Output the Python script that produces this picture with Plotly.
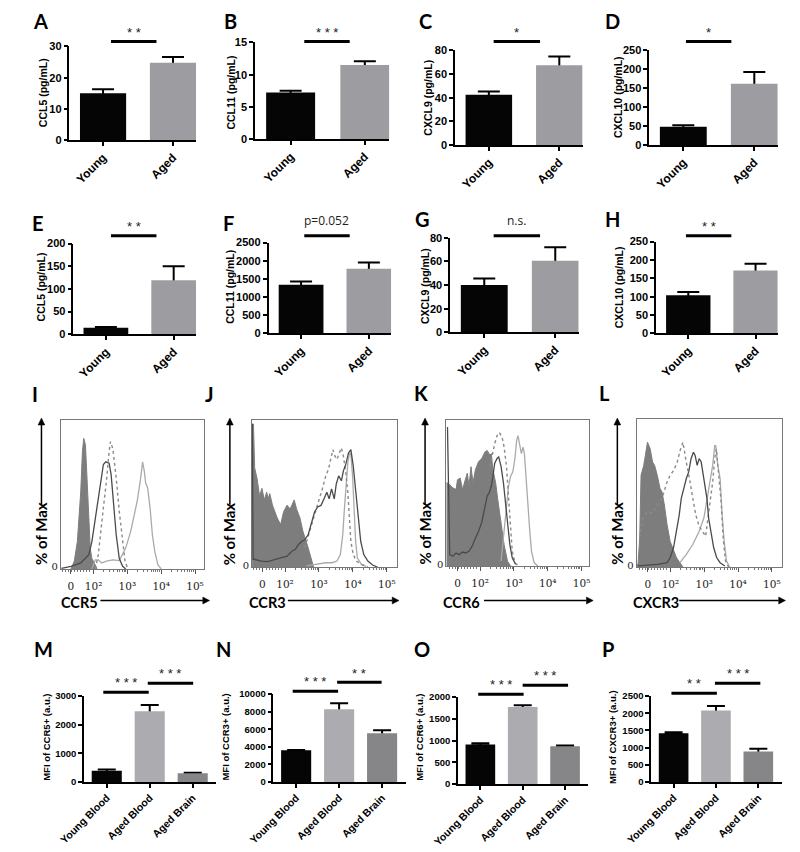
import plotly.graph_objects as go

W, H = 800, 852
def fx(p): return p / W
def fy(p): return 1 - p / H

# ---------------- data ----------------
young_aged = ["Young", "Aged"]
blood_brain = ["Young Blood", "Aged Blood", "Aged Brain"]

# serum (A-D)
A_vals = [15.0, 24.8]; A_err = [1.3, 1.8]
B_vals = [7.25, 11.5]; B_err = [0.25, 0.6]
C_vals = [42.5, 67.5]; C_err = [2.8, 7.3]
D_vals = [48.0, 162.0]; D_err = [4.0, 31.0]
# brain (E-H)
E_vals = [14.5, 119.0]; E_err = [1.5, 31.0]
F_vals = [1340.0, 1780.0]; F_err = [90.0, 170.0]
G_vals = [40.0, 60.5]; G_err = [5.5, 11.5]
H_vals = [104.0, 171.0]; H_err = [9.0, 19.0]
# MFI (M-P)
M_vals = [390, 2470, 300]; M_err = [45, 220, 20]
N_vals = [3600, 8280, 5550]; N_err = [50, 680, 350]
O_vals = [910, 1770, 870]; O_err = [25, 45, 15]
P_vals = [1420, 2080, 890]; P_err = [30, 130, 75]

# flow histograms: x in logicle display units (2 = 10^2 ...), y in % of max
I_fill_x = [1.33, 1.43, 1.52, 1.62, 1.67, 1.71, 1.76, 1.81, 1.86, 1.90, 1.95, 2.05, 2.10]
I_fill_y = [0, 6, 21, 59, 90, 100, 95, 72, 39, 16, 8, 3, 0]
I_dark_x = [1.05, 1.33, 1.62, 1.86, 1.95, 2.05, 2.11, 2.19, 2.29, 2.36, 2.46, 2.52, 2.59, 2.67, 2.76, 2.86, 2.95]
I_dark_y = [0.5, 2, 4.6, 11, 21, 39, 47, 64, 80, 82, 81, 72, 52, 26, 8, 2, 0]
I_dot_x = [2.05, 2.14, 2.29, 2.38, 2.46, 2.50, 2.57, 2.67, 2.76, 2.86, 2.93, 3.0]
I_dot_y = [0, 11, 47, 67, 90, 97.5, 92, 69.5, 44, 21, 6, 1]
I_light_x = [1.95, 2.05, 2.14, 2.24, 2.38, 2.57, 2.76, 2.86, 2.95, 3.10, 3.19, 3.29, 3.38, 3.45, 3.50, 3.54, 3.60, 3.67, 3.74, 3.81, 3.90, 4.0]
I_light_y = [0, 7, 7, 4.6, 6, 7, 6.4, 11, 16, 29, 39, 52, 67, 82, 75, 66, 62, 47, 26, 13.5, 3.3, 0]

J_fill_x = [1.03, 1.07, 1.105, 1.18, 1.25, 1.32, 1.39, 1.46, 1.505, 1.55, 1.63, 1.77, 1.87, 1.96, 2.06, 2.15, 2.27, 2.34, 2.44, 2.53, 2.68, 2.84]
J_fill_y = [111, 111, 77, 68, 55, 61, 52, 58, 53, 57, 48, 38, 33, 43, 48, 45, 52, 45, 38, 27.5, 15, 0]
J_dark_x = [1.035, 1.06, 1.09, 1.30, 1.49, 1.68, 1.87, 2.06, 2.20, 2.30, 2.39, 2.49, 2.58, 2.68, 2.77, 2.87, 2.96, 3.06, 3.15, 3.23, 3.30, 3.37, 3.45, 3.51, 3.58, 3.66, 3.72, 3.79, 3.87, 3.94, 4.01, 4.08, 4.15, 4.23, 4.32, 4.44, 4.58, 4.72]
J_dark_y = [111, 6, 6, 4.6, 4.1, 5.9, 7.1, 8.4, 12.2, 13.5, 17.3, 19.8, 21.1, 24.9, 32.6, 42.7, 46.6, 47.8, 52.9, 58, 52.9, 60.6, 52.9, 64.4, 70.7, 66.9, 74.6, 79.6, 88.5, 91.1, 78.4, 60.6, 37.7, 19.8, 9.7, 4.6, 1.5, 0]
J_dot_x = [2.58, 2.72, 2.82, 2.91, 3.01, 3.10, 3.20, 3.28, 3.34, 3.41, 3.47, 3.53, 3.60, 3.66, 3.72, 3.79, 3.85, 3.90, 3.94, 4.01, 4.10, 4.25, 4.44]
J_dot_y = [14.8, 27.5, 37.7, 45.3, 52.9, 60.6, 70.7, 75.8, 83.5, 91.1, 86, 83.5, 88.5, 92.4, 86, 73.3, 58, 37.7, 19.8, 9.7, 4.6, 2, 0]
J_light_x = [2.63, 2.91, 3.20, 3.39, 3.53, 3.63, 3.70, 3.75, 3.80, 3.85, 3.90, 3.94, 3.99, 4.04, 4.08, 4.13, 4.25, 4.39]
J_light_y = [0.8, 2, 3.3, 3.3, 4.6, 9.7, 24.9, 45.3, 63.1, 80.9, 88.5, 87.3, 70.7, 45.3, 19.8, 7.1, 2, 0.5]

K_fill_x = [1.0, 1.03, 1.10, 1.19, 1.29, 1.33, 1.41, 1.48, 1.52, 1.57, 1.62, 1.67, 1.73, 1.79, 1.86, 1.95, 2.05, 2.14, 2.21, 2.29, 2.33, 2.38, 2.46, 2.52, 2.62, 2.71, 2.81, 2.90]
K_fill_y = [64.9, 64.9, 63.6, 61.1, 59.8, 67.4, 68.7, 59.8, 63.6, 67.4, 72.5, 62.3, 77.6, 64.9, 75.1, 81.4, 84, 89, 90.3, 86.5, 87.8, 75.1, 64.9, 52.2, 31.8, 16.5, 3.8, 0]
K_dark_x = [1.02, 1.035, 1.10, 1.19, 1.29, 1.38, 1.48, 1.57, 1.67, 1.76, 1.86, 1.95, 2.05, 2.14, 2.21, 2.27, 2.33, 2.38, 2.43, 2.50, 2.55, 2.62, 2.69, 2.76, 2.82, 2.88, 2.95, 3.05]
K_dark_y = [108, 108, 8.9, 7.6, 10.2, 8.9, 10.9, 10.2, 11.5, 15.3, 21.6, 26.7, 34.4, 44.5, 54.7, 57.3, 62.3, 70, 80.2, 84, 85.2, 77.6, 64.9, 47.1, 31.8, 16.5, 6.4, 1.3]
K_dot_x = [2.29, 2.36, 2.43, 2.50, 2.57, 2.65, 2.71, 2.78, 2.84, 2.90, 2.95, 3.03, 3.14]
K_dot_y = [77.6, 87.8, 95.4, 101.8, 104.3, 100.5, 92.9, 77.6, 52.2, 26.7, 11.5, 2.5, 0]
K_light_x = [2.62, 2.69, 2.76, 2.84, 2.90, 2.97, 3.03, 3.08, 3.12, 3.17, 3.22, 3.27, 3.31, 3.35, 3.41, 3.47, 3.52, 3.60, 3.71]
K_light_y = [3.8, 21.6, 44.5, 62.3, 70, 73.8, 84, 98, 101.8, 95.4, 87.8, 92.9, 87.8, 72.5, 47.1, 26.7, 11.5, 2.5, 0]

L_fill_x = [1.0, 1.04, 1.09, 1.13, 1.21, 1.28, 1.32, 1.40, 1.47, 1.53, 1.61, 1.69, 1.75, 1.82, 1.90, 1.99, 2.09, 2.18, 2.28, 2.37]
L_fill_y = [2, 2, 22.4, 70.7, 78.4, 91.1, 96.2, 91.1, 80.9, 78.4, 70.7, 60.6, 58, 47.8, 32.6, 19.8, 12.2, 7.1, 3.3, 0]
L_dark_x = [1.04, 1.61, 1.90, 1.99, 2.09, 2.18, 2.26, 2.32, 2.39, 2.47, 2.54, 2.61, 2.68, 2.73, 2.79, 2.85, 2.91, 2.96, 3.02, 3.08, 3.13, 3.21, 3.28, 3.37, 3.47, 3.61]
L_dark_y = [0.8, 2, 3.3, 7.1, 14.8, 27.5, 40.2, 52.9, 60.6, 68.2, 73.3, 83.5, 88.5, 86, 78.4, 83.5, 80.9, 73.3, 63.1, 52.9, 37.7, 24.9, 14.8, 7.1, 3.3, 0.8]
L_dot_x = [1.09, 1.18, 1.32, 1.47, 1.61, 1.75, 1.90, 1.99, 2.10, 2.20, 2.30, 2.37, 2.45, 2.51, 2.58, 2.66, 2.75, 2.85, 2.94, 3.04, 3.11, 3.18, 3.25, 3.31, 3.36, 3.42, 3.50, 3.56, 3.63, 3.72]
L_dot_y = [22.4, 37.7, 42.7, 41.5, 47.8, 52.9, 65.6, 70.7, 74.6, 80.9, 91.1, 96.2, 83.5, 75.8, 65.6, 52.9, 40.2, 31.3, 27.5, 23.7, 37.7, 50.4, 65.6, 83.5, 91.1, 73.3, 50.4, 22.4, 4.6, 0]
L_light_x = [2.28, 2.47, 2.66, 2.85, 2.99, 3.09, 3.18, 3.25, 3.31, 3.34, 3.40, 3.47, 3.53, 3.59, 3.66, 3.75]
L_light_y = [3.3, 9.7, 17.3, 27.5, 37.7, 52.9, 65.6, 78.4, 93.6, 93.6, 78.4, 68.2, 40.2, 19.8, 4.6, 0]

flow_tickvals = [1.33, 2, 3, 4, 5]
flow_ticktext = ["0", "10²", "10³", "10⁴", "10⁵"]

# ---------------- figure ----------------
fig = go.Figure()
layout = {}
annotations = []
shapes = []

SANS = "Liberation Sans"
LETTER = "Lato"

def axnames(n):
    return ("xaxis" if n == 1 else f"xaxis{n}", "yaxis" if n == 1 else f"yaxis{n}",
            "x" if n == 1 else f"x{n}", "y" if n == 1 else f"y{n}")

def letter(t, x, y):
    annotations.append(dict(text="<b>" + t + "</b>", x=fx(x), y=fy(y), xref="paper", yref="paper", showarrow=False,
                            xanchor="center", yanchor="middle",
                            font=dict(family=LETTER, size=20, color="black")))

def sig(x0, x1, yl, text, yt, size=13, fam=SANS):
    shapes.append(dict(type="line", xref="paper", yref="paper", x0=fx(x0), x1=fx(x1), y0=fy(yl), y1=fy(yl),
                       line=dict(color="black", width=3)))
    annotations.append(dict(text=text, x=fx((x0 + x1) / 2), y=fy(yt), xref="paper", yref="paper",
                            showarrow=False, xanchor="center", yanchor="middle",
                            font=dict(family=fam, size=size, color="#222")))

def arrow(x0, y0, x1, y1, hl=7, hw=3.5):
    dx, dy = x1 - x0, y1 - y0
    d = (dx * dx + dy * dy) ** 0.5
    ux, uy = dx / d, dy / d
    bx, by = x1 - ux * hl, y1 - uy * hl
    shapes.append(dict(type="line", xref="paper", yref="paper", x0=fx(x0), y0=fy(y0), x1=fx(bx), y1=fy(by),
                       line=dict(color="black", width=1.5)))
    p1 = (bx - uy * hw, by + ux * hw)
    p2 = (bx + uy * hw, by - ux * hw)
    path = "M {} {} L {} {} L {} {} Z".format(fx(x1), fy(y1), fx(p1[0]), fy(p1[1]), fx(p2[0]), fy(p2[1]))
    shapes.append(dict(type="path", xref="paper", yref="paper", path=path, fillcolor="black",
                       line=dict(color="black", width=0.5)))

def bar_panel(n, cats, vals, errs, colors, ylabel, lab_xy, ymax, dtick, xl, xr, yt, yb,
              xrange, barw, capw, tfs, cfs, lfs):
    xk, yk, xr_, yr_ = axnames(n)
    pos = list(range(len(cats)))
    fig.add_trace(go.Bar(x=pos, y=vals, width=barw, marker=dict(color="rgba(0,0,0,0)", line=dict(width=0)),
                         error_y=dict(type="data", array=errs, visible=True, color="black",
                                      thickness=2, width=capw),
                         xaxis=xr_, yaxis=yr_, showlegend=False, hoverinfo="skip"))
    fig.add_trace(go.Bar(x=pos, y=vals, width=barw, marker=dict(color=colors, line=dict(width=0)),
                         xaxis=xr_, yaxis=yr_, showlegend=False))
    layout[xk] = dict(domain=[fx(xl), fx(xr)], range=xrange, anchor=yr_, tickmode="array",
                      tickvals=pos, ticktext=["<b>" + c + "</b>" for c in cats], tickangle=-45,
                      ticks="outside", ticklen=4,
                      tickwidth=1.5, tickcolor="black", showline=True, linewidth=1.5, linecolor="black",
                      showgrid=False, zeroline=False, fixedrange=True,
                      tickfont=dict(family=SANS, size=cfs, color="black"))
    layout[yk] = dict(domain=[fy(yb), fy(yt)], range=[0, ymax], anchor=xr_, tickmode="array",
                      tickvals=list(range(0, ymax + 1, dtick)),
                      ticktext=["<b>%d</b>" % v for v in range(0, ymax + 1, dtick)],
                      ticks="outside", ticklen=4, tickwidth=1.5, tickcolor="black", showline=True,
                      linewidth=1.5, linecolor="black", showgrid=False, zeroline=False,
                      tickfont=dict(family=SANS, size=tfs, color="black"))
    annotations.append(dict(text="<b>" + ylabel + "</b>", x=fx(lab_xy[0]), y=fy(lab_xy[1]), xref="paper",
                            yref="paper", showarrow=False, textangle=-90, xanchor="center", yanchor="middle",
                            font=dict(family=SANS, size=lfs, color="black")))

top_colors = ["#050505", "#9d9da1"]
bot_colors = ["#050505", "#acacb0", "#868688"]
tr = [-0.48, 1.33]
br = [-0.53, 2.55]

# row 1
bar_panel(1, young_aged, A_vals, A_err, top_colors, "CCL5 (pg/mL)", (17, 88), 30, 10, 45, 176, 41, 136, tr, 0.66, 11, 11, 12, 10.5)
bar_panel(2, young_aged, B_vals, B_err, top_colors, "CCL11 (pg/mL)", (212, 88), 15, 5, 237, 376, 37, 135, tr, 0.66, 11, 11, 12, 10.5)
bar_panel(3, young_aged, C_vals, C_err, top_colors, "CXCL9 (pg/mL)", (416, 93), 80, 20, 444, 576, 45, 141, tr, 0.66, 11, 11, 12, 10.5)
bar_panel(4, young_aged, D_vals, D_err, top_colors, "CXCL10 (pg/mL)", (612, 92), 250, 50, 645, 778, 45, 141, tr, 0.66, 11, 11, 12, 10.5)
# row 2
bar_panel(5, young_aged, E_vals, E_err, top_colors, "CCL5 (pg/mL)", (16, 285), 200, 50, 49, 176, 241, 333, tr, 0.66, 11, 11, 12, 10.5)
bar_panel(6, young_aged, F_vals, F_err, top_colors, "CCL11 (pg/mL)", (211, 285), 2500, 500, 251, 378, 240, 332, tr, 0.66, 11, 11, 12, 10.5)
bar_panel(7, young_aged, G_vals, G_err, top_colors, "CXCL9 (pg/mL)", (413, 284), 80, 20, 439, 572, 235, 331, tr, 0.66, 11, 11, 12, 10.5)
bar_panel(8, young_aged, H_vals, H_err, top_colors, "CXCL10 (pg/mL)", (614, 285), 250, 50, 652, 778, 239, 332, tr, 0.66, 11, 11, 12, 10.5)
# row 4
bar_panel(9, blood_brain, M_vals, M_err, bot_colors, "MFI of CCR5+ (a.u.)", (21, 742), 3000, 1000, 60, 197, 700, 787, br, 0.7, 9, 9.5, 10.5, 9.5)
bar_panel(10, blood_brain, N_vals, N_err, bot_colors, "MFI of CCR3+ (a.u.)", (207, 742), 10000, 2000, 256, 393, 698, 787, br, 0.7, 9, 9.5, 10.5, 9.5)
bar_panel(11, blood_brain, O_vals, O_err, bot_colors, "MFI of CCR6+ (a.u.)", (407, 742), 2000, 500, 447, 582, 701, 789, br, 0.7, 9, 9.5, 10.5, 9.5)
bar_panel(12, blood_brain, P_vals, P_err, bot_colors, "MFI of CXCR3+ (a.u.)", (607, 742), 2500, 500, 647, 782, 700, 787, br, 0.7, 9, 9.5, 10.5, 9.5)

# significance bars
sig(88, 135, 36, "* *", 27)
sig(288, 335, 36, "* * *", 27)
sig(484, 532, 36, "*", 27)
sig(683, 730, 36, "*", 27)
sig(88, 135, 233, "* *", 224)
sig(288, 335, 233, "p=0.052", 218, 12, "Open Sans")
sig(484, 532, 233, "n.s.", 218, 12, "Open Sans")
sig(683, 730, 233, "* *", 224)
sig(80, 127, 696, "* * *", 686)
sig(126, 173, 687, "* * *", 677)
sig(276, 323, 695, "* * *", 685)
sig(322, 368, 686, "* *", 677)
sig(468, 515, 698, "* * *", 688)
sig(514, 561, 689, "* * *", 679)
sig(668, 715, 697, "* *", 687)
sig(713, 760, 687, "* * *", 677)

# flow panels
minor_vals = [1.08 + 0.09 * i for i in range(10)] + [d + m for d in (2, 3, 4) for m in
              (0.301, 0.477, 0.602, 0.699, 0.778, 0.845, 0.903, 0.954)]

def flow_panel(n, fill, dark, light, dot, box, xrange, name, name_x, arr_x0, arr_x1, yarr_x):
    xk, yk, xr_, yr_ = axnames(n)
    fig.add_trace(go.Scatter(x=fill[0], y=fill[1], mode="lines", fill="tozeroy", fillcolor="#7d7d7d",
                             line=dict(color="#7d7d7d", width=1), xaxis=xr_, yaxis=yr_, showlegend=False))
    fig.add_trace(go.Scatter(x=light[0], y=light[1], mode="lines", line=dict(color="#aaaaaa", width=1.3),
                             xaxis=xr_, yaxis=yr_, showlegend=False))
    fig.add_trace(go.Scatter(x=dot[0], y=dot[1], mode="lines", line=dict(color="#8a8a8a", width=1.4, dash="dot"),
                             xaxis=xr_, yaxis=yr_, showlegend=False))
    fig.add_trace(go.Scatter(x=dark[0], y=dark[1], mode="lines", line=dict(color="#4a4a4a", width=1.3),
                             xaxis=xr_, yaxis=yr_, showlegend=False))
    x0, x1, y0, y1 = box
    layout[xk] = dict(domain=[fx(x0), fx(x1)], range=xrange, anchor=yr_, tickmode="array",
                      tickvals=flow_tickvals, ticktext=flow_ticktext, ticks="outside", ticklen=4,
                      tickcolor="#555", showline=True, mirror=True, linewidth=1, linecolor="#777",
                      showgrid=False, zeroline=False, ticklabelstandoff=3,
                      minor=dict(tickvals=minor_vals, ticks="outside", ticklen=2, tickcolor="#777"),
                      tickfont=dict(family="DejaVu Serif", size=10.5, color="#222"))
    layout[yk] = dict(domain=[fy(y1), fy(y0)], range=[0, 114], anchor=xr_, tickmode="array",
                      tickvals=[1.5], ticktext=["0"], ticks="", showline=True, mirror=True, linewidth=1,
                      linecolor="#777", showgrid=False, zeroline=False,
                      tickfont=dict(family="DejaVu Serif", size=10, color="#222"))
    annotations.append(dict(text="<b>" + name + "</b>", x=fx(name_x), y=fy(605), xref="paper", yref="paper",
                            showarrow=False, xanchor="center", yanchor="middle",
                            font=dict(family=LETTER, size=14.5, color="black")))
    arrow(arr_x0, 603, arr_x1, 603)
    annotations.append(dict(text="<b>% of Max</b>", x=fx(yarr_x), y=fy(535), xref="paper", yref="paper",
                            showarrow=False, textangle=-90, xanchor="center", yanchor="middle",
                            font=dict(family=LETTER, size=15, color="black")))
    arrow(yarr_x, 506, yarr_x, 418)

flow_panel(13, (I_fill_x, I_fill_y), (I_dark_x, I_dark_y), (I_light_x, I_light_y), (I_dot_x, I_dot_y),
           (36, 184, 420, 571), [1.03, 5.26], "CCR5", 55, 77, 190, 16)
flow_panel(14, (J_fill_x, J_fill_y), (J_dark_x, J_dark_y), (J_light_x, J_light_y), (J_dot_x, J_dot_y),
           (234, 384, 420, 569), [1.03, 5.3], "CCR3", 250, 271, 386, 211)
flow_panel(15, (K_fill_x, K_fill_y), (K_dark_x, K_dark_y), (K_light_x, K_light_y), (K_dot_x, K_dot_y),
           (435, 583, 420, 568), [1.0, 5.23], "CCR6", 451, 474, 587, 413)
flow_panel(16, (L_fill_x, L_fill_y), (L_dark_x, L_dark_y), (L_light_x, L_light_y), (L_dot_x, L_dot_y),
           (632, 782, 419, 569), [1.0, 5.29], "CXCR3", 652, 676, 786, 612)

# panel letters
for t, x, y in [("A", 15, 15), ("B", 212, 15), ("C", 413, 15), ("D", 607, 15),
                ("E", 12, 220), ("F", 210, 220), ("G", 410, 216), ("H", 607, 216),
                ("I", 9, 394), ("J", 190, 394), ("K", 409, 393), ("L", 599, 393),
                ("M", 18, 652), ("N", 204, 652), ("O", 410, 652), ("P", 602, 652)]:
    letter(t, x, y)

fig.update_layout(width=W, height=H, margin=dict(l=0, r=0, t=0, b=0, pad=0), barmode="overlay",
                  plot_bgcolor="white", paper_bgcolor="white", annotations=annotations, shapes=shapes,
                  showlegend=False, **layout)

fig.write_html("out.html", config={"displayModeBar": False},
               post_script="document.body.style.margin='0px';")
